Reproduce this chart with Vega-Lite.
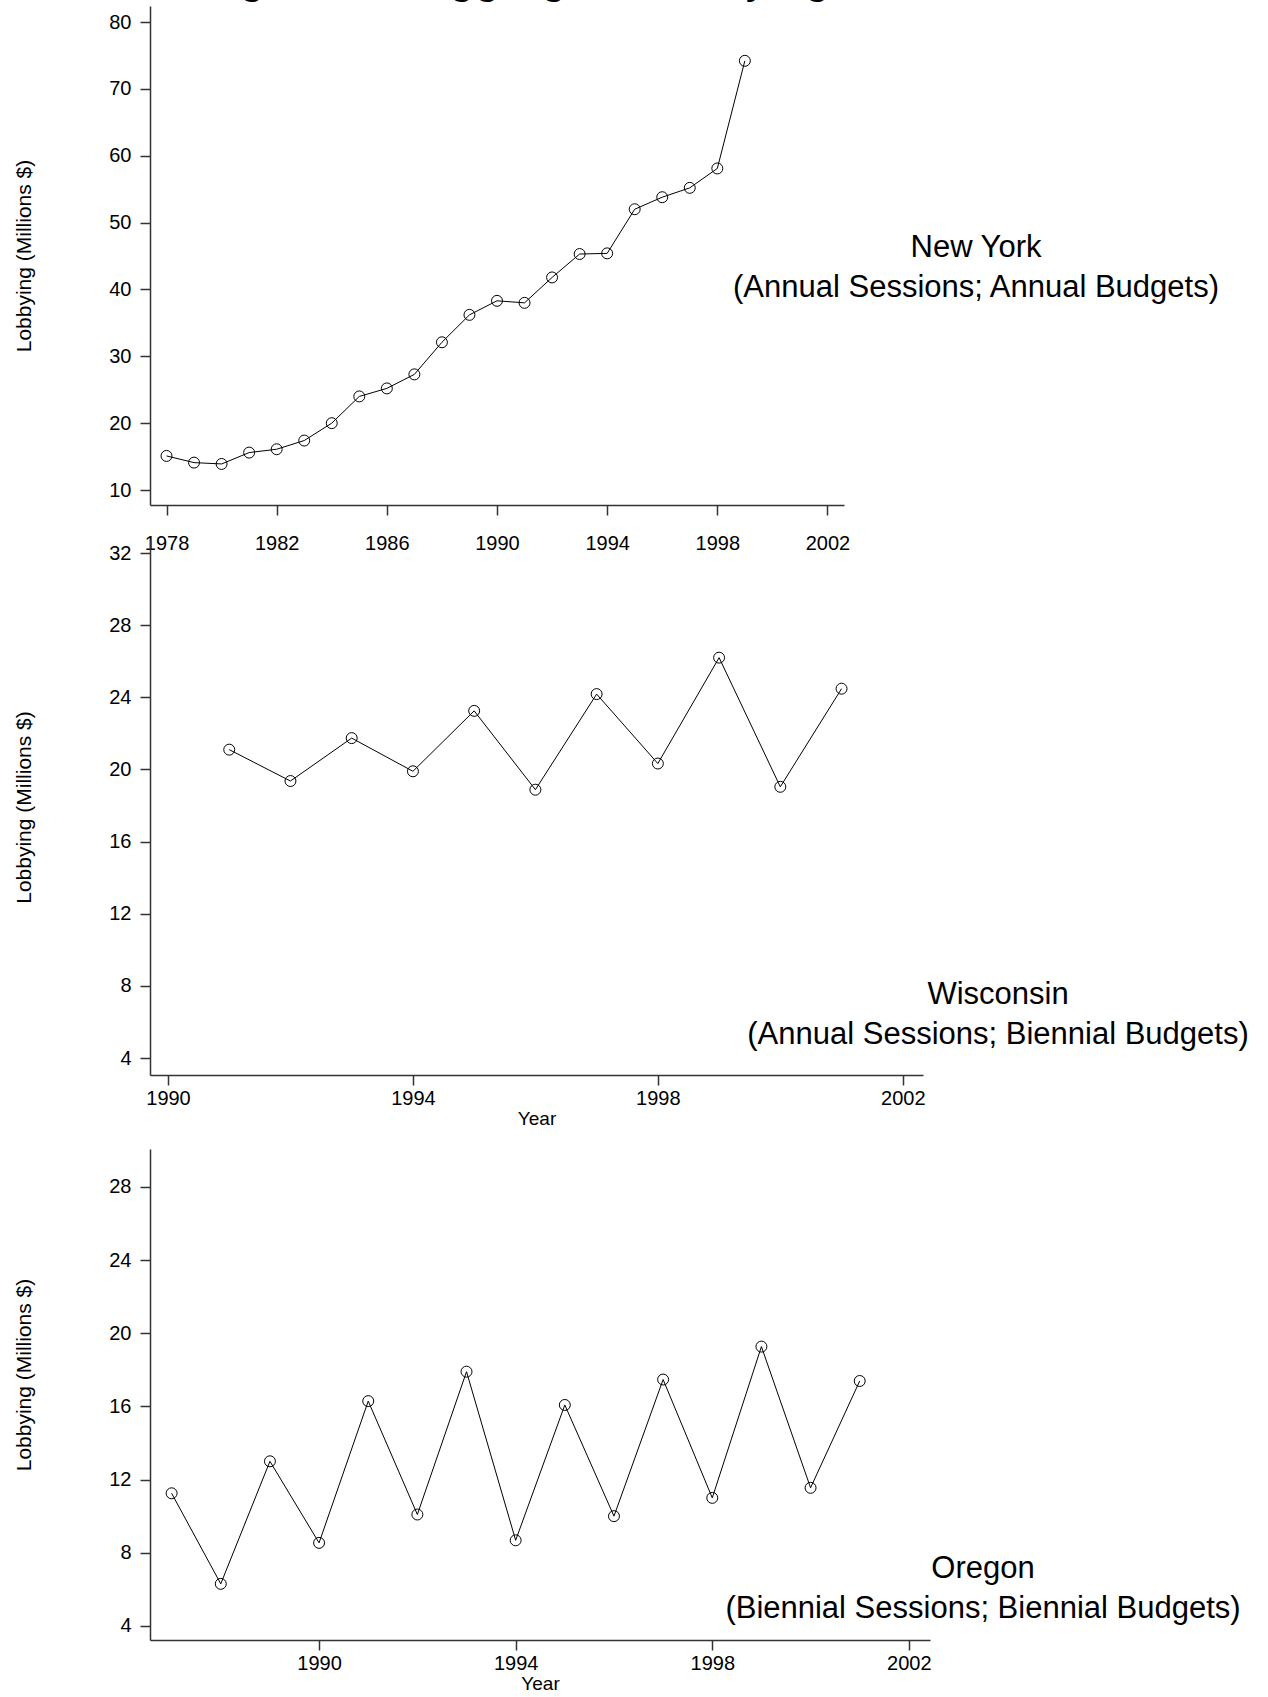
{
  "$schema": "https://vega.github.io/schema/vega-lite/v6.json",
  "background": "white",
  "padding": {"left": 13, "top": -45, "right": 5, "bottom": 5},
  "title": {
    "text": "Figure 10: Aggregate Lobbying",
    "anchor": "start",
    "frame": "group",
    "orient": "top",
    "baseline": "alphabetic",
    "offset": -32,
    "dx": 51,
    "fontSize": 46,
    "fontWeight": "normal",
    "font": "Liberation Sans",
    "color": "black"
  },
  "datasets": {
    "newyork": [
      {"year": 1978, "lobbying": 15.1}, {"year": 1979, "lobbying": 14.1}, {"year": 1980, "lobbying": 13.9},
      {"year": 1981, "lobbying": 15.6}, {"year": 1982, "lobbying": 16.1}, {"year": 1983, "lobbying": 17.4},
      {"year": 1984, "lobbying": 20.0}, {"year": 1985, "lobbying": 24.0}, {"year": 1986, "lobbying": 25.2},
      {"year": 1987, "lobbying": 27.3}, {"year": 1988, "lobbying": 32.1}, {"year": 1989, "lobbying": 36.2},
      {"year": 1990, "lobbying": 38.3}, {"year": 1991, "lobbying": 38.0}, {"year": 1992, "lobbying": 41.8},
      {"year": 1993, "lobbying": 45.3}, {"year": 1994, "lobbying": 45.4}, {"year": 1995, "lobbying": 52.0},
      {"year": 1996, "lobbying": 53.8}, {"year": 1997, "lobbying": 55.2}, {"year": 1998, "lobbying": 58.1},
      {"year": 1999, "lobbying": 74.2}
    ],
    "wisconsin": [
      {"year": 1991, "lobbying": 21.1}, {"year": 1992, "lobbying": 19.36}, {"year": 1993, "lobbying": 21.74},
      {"year": 1994, "lobbying": 19.9}, {"year": 1995, "lobbying": 23.25}, {"year": 1996, "lobbying": 18.88},
      {"year": 1997, "lobbying": 24.18}, {"year": 1998, "lobbying": 20.33}, {"year": 1999, "lobbying": 26.2},
      {"year": 2000, "lobbying": 19.04}, {"year": 2001, "lobbying": 24.48}
    ],
    "oregon": [
      {"year": 1987, "lobbying": 11.25}, {"year": 1988, "lobbying": 6.3}, {"year": 1989, "lobbying": 13.0},
      {"year": 1990, "lobbying": 8.54}, {"year": 1991, "lobbying": 16.29}, {"year": 1992, "lobbying": 10.09},
      {"year": 1993, "lobbying": 17.9}, {"year": 1994, "lobbying": 8.68}, {"year": 1995, "lobbying": 16.08},
      {"year": 1996, "lobbying": 10.0}, {"year": 1997, "lobbying": 17.47}, {"year": 1998, "lobbying": 11.0},
      {"year": 1999, "lobbying": 19.27}, {"year": 2000, "lobbying": 11.55}, {"year": 2001, "lobbying": 17.39}
    ]
  },
  "bounds": "flush",
  "spacing": 34,
  "vconcat": [
    {
      "width": 694,
      "height": 499,
      "data": {"name": "newyork"},
      "title": {
        "text": ["New York", "(Annual Sessions; Annual Budgets)"],
        "orient": "top", "anchor": "end", "frame": "group", "align": "center",
        "baseline": "alphabetic", "offset": 0, "dx": 132, "dy": 322,
        "fontSize": 31, "lineHeight": 40, "fontWeight": "normal", "color": "black"
      },
      "encoding": {
        "x": {
          "field": "year", "type": "quantitative",
          "scale": {"domain": [1977.4, 2002.6], "nice": false, "zero": false},
          "axis": {"values": [1978, 1982, 1986, 1990, 1994, 1998, 2002], "format": "d", "title": null, "labelPadding": 18}
        },
        "y": {
          "field": "lobbying", "type": "quantitative",
          "scale": {"domain": [7.76, 82.4], "nice": false, "zero": false},
          "axis": {"values": [10, 20, 30, 40, 50, 60, 70, 80], "title": "Lobbying (Millions $)"}
        }
      },
      "layer": [
        {"mark": {"type": "line", "color": "black", "strokeWidth": 1}},
        {"mark": {"type": "point", "shape": "circle", "filled": false, "color": "black", "size": 120, "strokeWidth": 1, "opacity": 1}}
      ]
    },
    {
      "width": 773,
      "height": 536,
      "data": {"name": "wisconsin"},
      "title": {
        "text": ["Wisconsin", "(Annual Sessions; Biennial Budgets)"],
        "orient": "top", "anchor": "end", "frame": "group", "align": "center",
        "baseline": "alphabetic", "offset": 0, "dx": 75, "dy": 536,
        "fontSize": 31, "lineHeight": 40, "fontWeight": "normal", "color": "black"
      },
      "encoding": {
        "x": {
          "field": "year", "type": "quantitative",
          "scale": {"domain": [1989.706, 2002.33], "nice": false, "zero": false},
          "axis": {"values": [1990, 1994, 1998, 2002], "format": "d", "title": "Year"}
        },
        "y": {
          "field": "lobbying", "type": "quantitative",
          "scale": {"domain": [3.06, 32.78], "nice": false, "zero": false},
          "axis": {"values": [4, 8, 12, 16, 20, 24, 28, 32], "title": "Lobbying (Millions $)"}
        }
      },
      "layer": [
        {"mark": {"type": "line", "color": "black", "strokeWidth": 1}},
        {"mark": {"type": "point", "shape": "circle", "filled": false, "color": "black", "size": 120, "strokeWidth": 1, "opacity": 1}}
      ]
    },
    {
      "width": 780,
      "height": 531,
      "data": {"name": "oregon"},
      "title": {
        "text": ["Oregon", "(Biennial Sessions; Biennial Budgets)"],
        "orient": "top", "anchor": "end", "frame": "group", "align": "center",
        "baseline": "alphabetic", "offset": 0, "dx": 53, "dy": 540,
        "fontSize": 31, "lineHeight": 40, "fontWeight": "normal", "color": "black"
      },
      "encoding": {
        "x": {
          "field": "year", "type": "quantitative",
          "scale": {"domain": [1986.56, 2002.43], "nice": false, "zero": false},
          "axis": {"values": [1990, 1994, 1998, 2002], "format": "d", "title": "Year"}
        },
        "y": {
          "field": "lobbying", "type": "quantitative",
          "scale": {"domain": [3.23, 32.26], "nice": false, "zero": false},
          "axis": {"values": [4, 8, 12, 16, 20, 24, 28], "title": "Lobbying (Millions $)", "domainDash": [491, 200]}
        }
      },
      "layer": [
        {"mark": {"type": "line", "color": "black", "strokeWidth": 1}},
        {"mark": {"type": "point", "shape": "circle", "filled": false, "color": "black", "size": 120, "strokeWidth": 1, "opacity": 1}}
      ]
    }
  ],
  "config": {
    "font": "Liberation Sans",
    "view": {"stroke": null},
    "axis": {
      "grid": false,
      "domainColor": "#333",
      "domainWidth": 1.5,
      "tickColor": "#333",
      "tickWidth": 1.5,
      "tickSize": 10,
      "labelFont": "Liberation Sans",
      "labelFontSize": 20,
      "labelColor": "black",
      "titleFont": "Liberation Sans",
      "titleFontSize": 19,
      "titleFontWeight": "normal",
      "titleColor": "black"
    },
    "axisY": {"labelPadding": 9, "titlePadding": 74, "titleFontSize": 21},
    "axisX": {"labelPadding": 3, "titlePadding": 1}
  }
}
